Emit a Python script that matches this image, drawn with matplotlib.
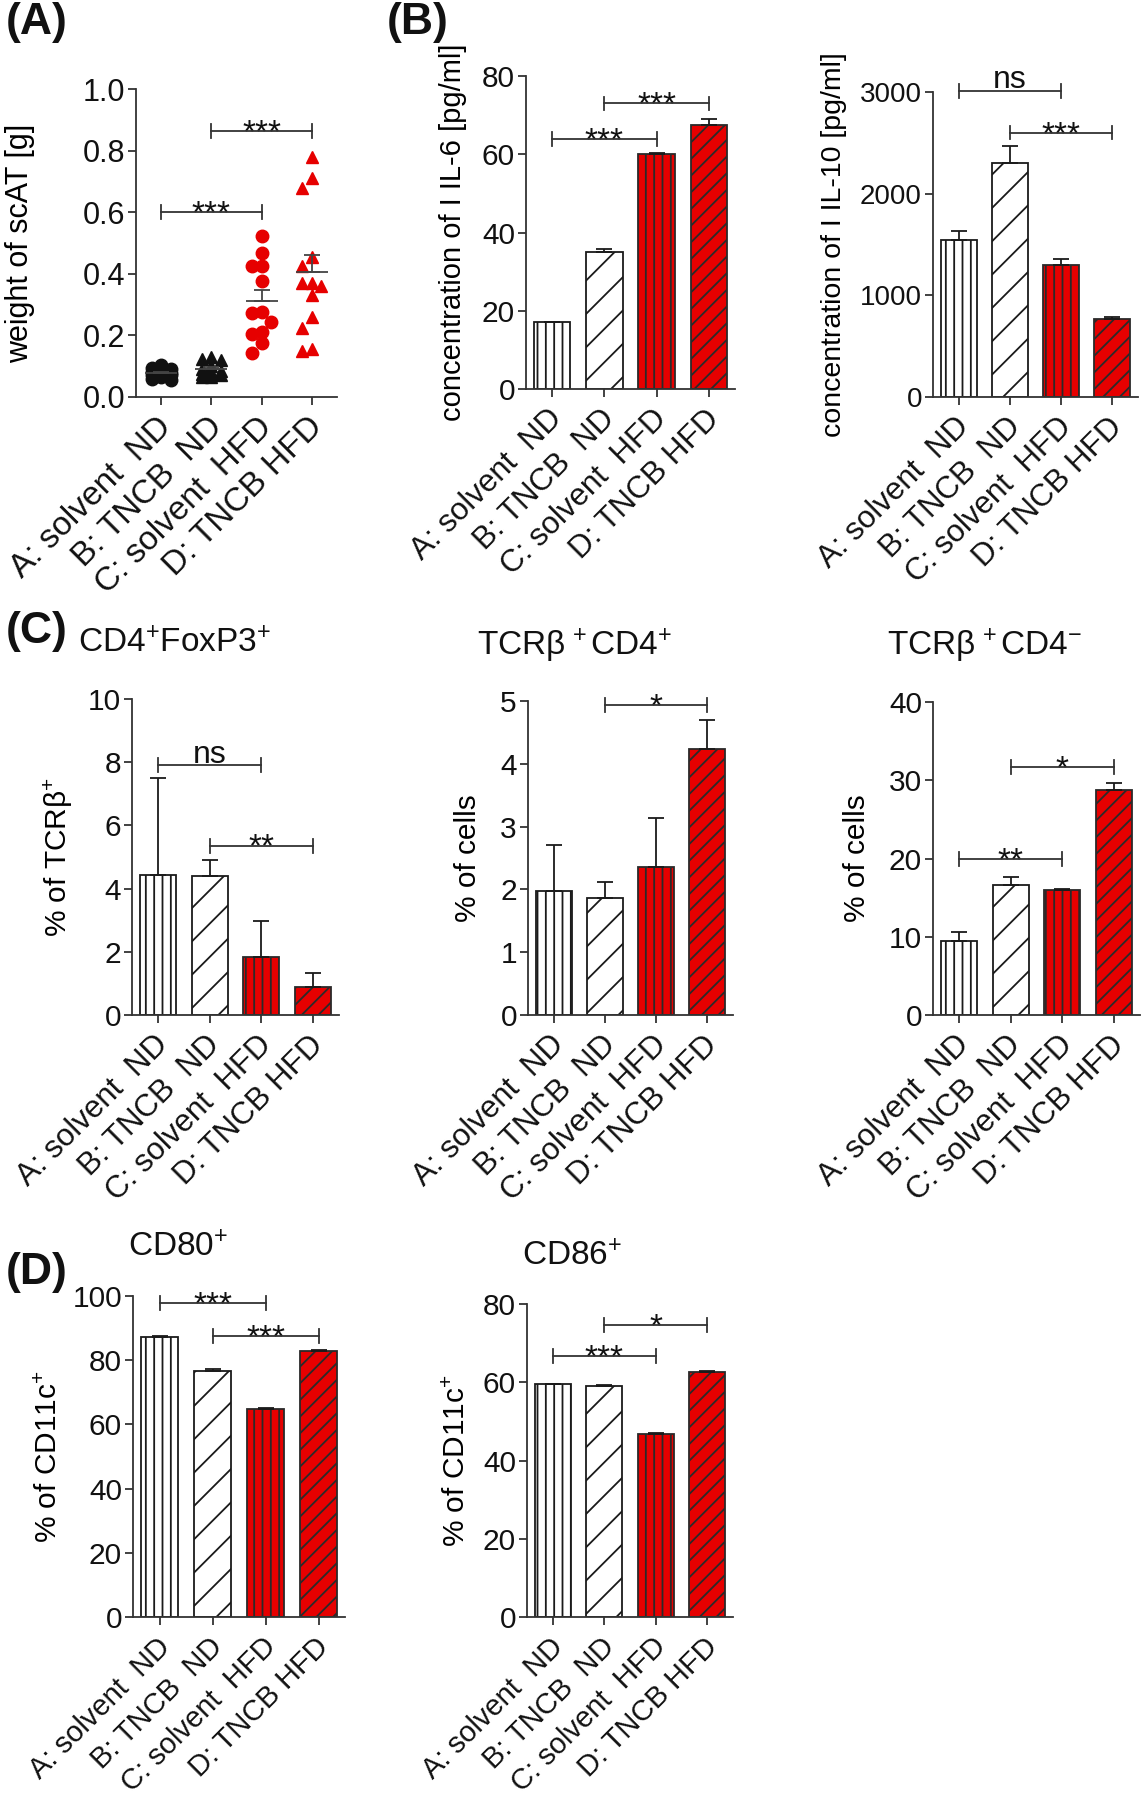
import numpy as np
import matplotlib.pyplot as plt
from matplotlib.transforms import ScaledTranslation

plt.rcParams.update({
    'font.family': ['Liberation Sans', 'DejaVu Sans'],
    'mathtext.fontset': 'custom',
    'mathtext.rm': 'Liberation Sans',
    'mathtext.it': 'Liberation Sans:italic',
    'mathtext.bf': 'Liberation Sans:bold',
    'hatch.linewidth': 1.3,
    'axes.linewidth': 1.3,
    'text.color': '#111111',
})

W, H = 1142, 1800
RED = '#e60000'
INK = '#1a1a1a'

groups = ['A: solvent  ND', 'B: TNCB  ND', 'C: solvent  HFD', 'D: TNCB HFD']

# (A) weight of scAT [g], individual animals
scat_solvent_nd = [0.105, 0.095, 0.09, 0.085, 0.08, 0.078, 0.075, 0.072, 0.07, 0.065, 0.06, 0.055]
scat_tncb_nd = [0.13, 0.125, 0.12, 0.10, 0.09, 0.085, 0.08, 0.075, 0.07, 0.07, 0.065, 0.065]
scat_solvent_hfd = [0.523, 0.468, 0.425, 0.425, 0.378, 0.277, 0.274, 0.245, 0.212, 0.205, 0.174, 0.142]
scat_tncb_hfd = [0.78, 0.71, 0.68, 0.455, 0.425, 0.37, 0.37, 0.36, 0.33, 0.26, 0.225, 0.155, 0.15]

# (B) cytokines, mean and SEM
il6_mean = [17.0, 35.0, 60.0, 67.5]
il6_sem = [0.2, 0.9, 0.3, 1.5]
il10_mean = [1545, 2300, 1295, 765]
il10_sem = [90, 170, 60, 25]

# (C) T cells
foxp3_mean = [4.42, 4.40, 1.85, 0.88]
foxp3_sem = [3.09, 0.50, 1.13, 0.44]
cd4pos_mean = [1.97, 1.87, 2.35, 4.24]
cd4pos_sem = [0.74, 0.25, 0.79, 0.45]
cd4neg_mean = [9.5, 16.6, 15.95, 28.8]
cd4neg_sem = [1.07, 1.0, 0.15, 0.8]

# (D) dendritic cells
cd80_mean = [87.3, 76.6, 64.7, 82.9]
cd80_sem = [0.2, 0.6, 0.5, 0.3]
cd86_mean = [59.5, 59.1, 46.7, 62.7]
cd86_sem = [0.1, 0.3, 0.4, 0.2]

# significance brackets: (group i, group j, height, label)
sig_scat = [(0, 2, 0.60, '***'), (1, 3, 0.863, '***')]
sig_il6 = [(0, 2, 63.8, '***'), (1, 3, 73.0, '***')]
sig_il10 = [(0, 2, 3010, 'ns'), (1, 3, 2600, '***')]
sig_foxp3 = [(0, 2, 7.9, 'ns'), (1, 3, 5.36, '**')]
sig_cd4pos = [(1, 3, 4.94, '*')]
sig_cd4neg = [(0, 2, 19.9, '**'), (1, 3, 31.65, '*')]
sig_cd80 = [(0, 2, 97.9, '***'), (1, 3, 87.6, '***')]
sig_cd86 = [(0, 2, 66.7, '***'), (1, 3, 74.6, '*')]

fills = ['white', 'white', RED, RED]
edges = [INK, INK, '#2a2a2a', '#2a2a2a']
hatches = ['||', '/', '||', '//']

fig = plt.figure(figsize=(W / 100, H / 100), dpi=100)


def px_axes(l, t, r, b):
    return fig.add_axes([l / W, 1 - b / H, (r - l) / W, (b - t) / H])


def style(ax, top, step, fmt, tick_fs=21.5, cat_fs=22.5):
    ax.set_xlim(-0.5, 3.5)
    ax.set_ylim(0, top)
    ax.spines[['top', 'right']].set_visible(False)
    for s in ('left', 'bottom'):
        ax.spines[s].set_color('#333333')
    ax.set_yticks(np.arange(0, top + step / 2, step))
    ax.set_yticklabels([fmt.format(v) for v in np.arange(0, top + step / 2, step)])
    ax.set_xticks(range(4))
    ax.set_xticklabels([])
    ax.tick_params(direction='out', length=6, width=1.3, labelsize=tick_fs,
                   color='#333333', labelcolor='#111111', pad=2)
    off = ScaledTranslation(0.06, -0.255, fig.dpi_scale_trans)
    for i, g in enumerate(groups):
        ax.text(i, 0, g, transform=ax.get_xaxis_transform() + off, rotation=45,
                ha='right', va='center', rotation_mode='anchor', fontsize=cat_fs)


def brackets(ax, sigs, star_fs=24):
    lo, hi = ax.get_ylim()
    d = (hi - lo) * 0.022
    for i, j, y, lab in sigs:
        kw = dict(color='#333333', lw=1.3, clip_on=False, zorder=5)
        ax.plot([i, j], [y, y], **kw)
        ax.plot([i, i], [y - d, y + d], **kw)
        ax.plot([j, j], [y - d, y + d], **kw)
        if lab == 'ns':
            ax.annotate(lab, ((i + j) / 2, y), xytext=(0, 2), textcoords='offset points',
                        ha='center', va='baseline', fontsize=23, annotation_clip=False)
        else:
            ax.annotate(lab, ((i + j) / 2, y), xytext=(0, -8), textcoords='offset points',
                        ha='center', va='baseline', fontsize=star_fs, annotation_clip=False)


def bars(ax, mean, sem):
    x = np.arange(len(mean))
    cont = ax.bar(x, mean, width=0.7, color=fills, edgecolor=edges, linewidth=1.3, zorder=2)
    for p, h in zip(cont.patches, hatches):
        p.set_hatch(h)
    ax.errorbar(x, mean, yerr=[np.zeros(len(sem)), sem], fmt='none', ecolor=INK,
                elinewidth=1.3, capsize=6, capthick=1.3, zorder=3)


def swarm(vals, step, min_dy):
    placed = []
    offs = []
    for v in vals:
        best, best_gap = 0.0, -1
        for c in (0.0, -step, step):
            gap = min([np.hypot((c - o) / step, (v - pv) / min_dy) for o, pv in placed] or [9])
            if gap >= 1:
                best = c
                break
            if gap > best_gap:
                best, best_gap = c, gap
        placed.append((best, v))
        offs.append(best)
    return np.array(offs)


def ylab(ax, text, x, fs=21.5):
    ax.set_ylabel(text, fontsize=fs)
    ax.yaxis.set_label_coords(x, 0.5)


# ---------------- (A) ----------------
ax = px_axes(136, 89, 337, 397)
style(ax, 1.0, 0.2, '{:.1f}', tick_fs=22, cat_fs=24)
scat_sets = [scat_solvent_nd, scat_tncb_nd, scat_solvent_hfd, scat_tncb_hfd]
markers = ['o', '^', 'o', '^']
mcolors = ['#111111', '#111111', RED, RED]
for i, vals in enumerate(scat_sets):
    vals = np.array(vals)
    xs = i + swarm(vals, 0.19, 0.038)
    ax.plot(xs, vals, ls='none', marker=markers[i], ms=9, color=mcolors[i], mec=mcolors[i], zorder=3)
    m = vals.mean()
    se = vals.std(ddof=1) / np.sqrt(len(vals))
    ax.hlines(m, i - 0.32, i + 0.32, color='#444444', lw=1.3, zorder=4)
    ax.errorbar(i, m, yerr=[[0], [se]], fmt='none', ecolor='#444444', elinewidth=1.3,
                capsize=6, capthick=1.3, zorder=4)
ylab(ax, 'weight of scAT [g]', -0.50, fs=22)
brackets(ax, sig_scat)

# ---------------- (B) ----------------
ax = px_axes(526, 76, 735, 389)
style(ax, 80, 20, '{:.0f}')
bars(ax, il6_mean, il6_sem)
ylab(ax, 'concentration of I IL-6 [pg/ml]', -0.28, fs=21)
brackets(ax, sig_il6)

ax = px_axes(933, 92, 1138, 397)
style(ax, 3000, 1000, '{:.0f}', tick_fs=20)
bars(ax, il10_mean, il10_sem)
ylab(ax, 'concentration of I IL-10 [pg/ml]', -0.42, fs=20.5)
brackets(ax, sig_il10)

# ---------------- (C) ----------------
ax = px_axes(132, 699, 339, 1015)
style(ax, 10, 2, '{:.0f}')
bars(ax, foxp3_mean, foxp3_sem)
ylab(ax, '% of TCRβ$^{+}$', -0.275)
brackets(ax, sig_foxp3)

ax = px_axes(528, 701, 733, 1015)
style(ax, 5, 1, '{:.0f}')
bars(ax, cd4pos_mean, cd4pos_sem)
ylab(ax, '% of cells', -0.224)
brackets(ax, sig_cd4pos)

ax = px_axes(933, 702, 1140, 1015)
style(ax, 40, 10, '{:.0f}')
bars(ax, cd4neg_mean, cd4neg_sem)
ylab(ax, '% of cells', -0.30)
brackets(ax, sig_cd4neg)

# ---------------- (D) ----------------
ax = px_axes(133, 1296, 345, 1617)
style(ax, 100, 20, '{:.0f}', cat_fs=21)
bars(ax, cd80_mean, cd80_sem)
ylab(ax, '% of CD11c$^{+}$', -0.33)
brackets(ax, sig_cd80)

ax = px_axes(527, 1304, 733, 1617)
style(ax, 80, 20, '{:.0f}', cat_fs=21)
bars(ax, cd86_mean, cd86_sem)
ylab(ax, '% of CD11c$^{+}$', -0.27)
brackets(ax, sig_cd86)


# panel letters and titles
def ftext(x, y, s, **kw):
    fig.text(x / W, 1 - y / H, s, va='baseline', ha='left', **kw)


ftext(6, 34, '(A)', fontsize=32, fontweight='bold')
ftext(387, 34, '(B)', fontsize=32, fontweight='bold')
ftext(6, 643, '(C)', fontsize=32, fontweight='bold')
ftext(6, 1284, '(D)', fontsize=32, fontweight='bold')
ftext(78, 652, 'CD4$^{+}$FoxP3$^{+}$', fontsize=24)
ftext(477, 655, r'TCRβ$^{\,+}$CD4$^{+}$', fontsize=24)
ftext(887, 655, r'TCRβ$^{\,+}$CD4$^{-}$', fontsize=24)
ftext(128, 1256, 'CD80$^{+}$', fontsize=24)
ftext(522, 1265, 'CD86$^{+}$', fontsize=24)

fig.savefig('out.png', dpi=100, facecolor='white')
